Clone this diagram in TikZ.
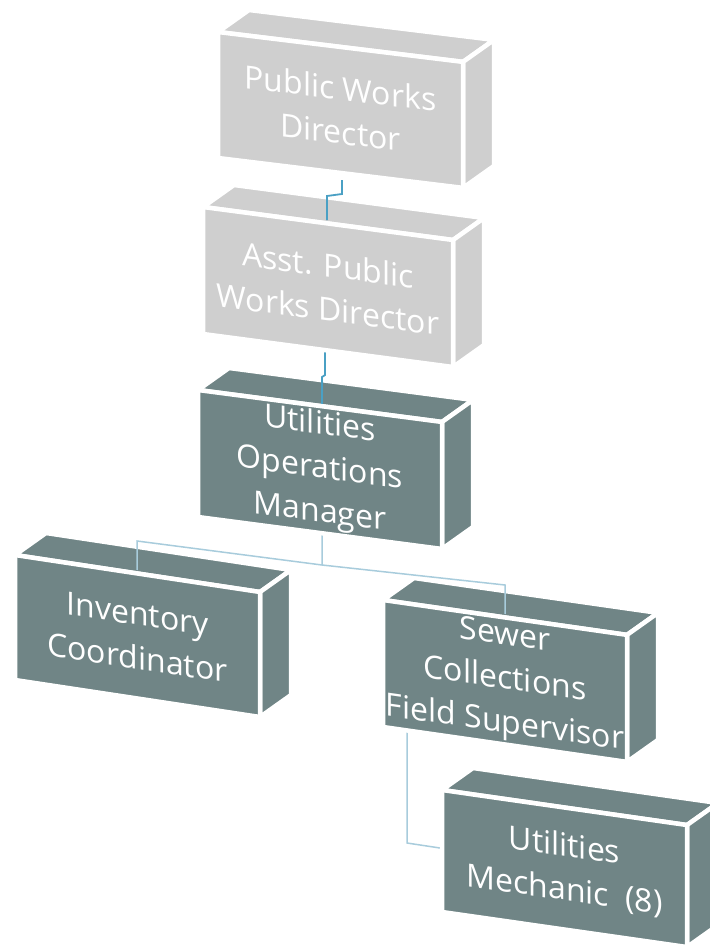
\documentclass[tikz,border=0pt]{standalone}
\usepackage{fontspec}
\setmainfont{Open Sans}
\definecolor{boxlight}{RGB}{207,207,207}
\definecolor{boxdark}{RGB}{112,133,134}
\definecolor{linkdark}{RGB}{74,160,196}
\definecolor{linklight}{RGB}{168,204,220}
\pgfdeclarelayer{bg}
\pgfdeclarelayer{faces}
\pgfdeclarelayer{links}
\pgfsetlayers{bg,faces,links,main}
\tikzset{
  face/.style={line width=4.5pt, draw=white, line join=round},
  lbl/.style={text=white, align=center, font=\fontsize{32}{44}\selectfont, transform shape, inner sep=0pt},
  linkA/.style={draw=linkdark, line width=1.8pt},
  linkB/.style={draw=linklight, line width=1.5pt},
}
% name, x, y, w, h, slope, fill, text
\newcommand\orgbox[8]{%
  \begin{scope}[shift={(#2,#3)}, yslant=-#6]
    \begin{pgfonlayer}{faces}
      \filldraw[face, fill=#7] (0,0) -- (31,{-(22+#6*31)}) -- ({#4+31},{-(22+#6*31)}) -- (#4,0) -- cycle;
      \filldraw[face, fill=#7] (#4,0) -- ({#4+31},{-(22+#6*31)}) -- ({#4+31},{#5-(22+#6*31)}) -- (#4,#5) -- cycle;
    \end{pgfonlayer}
    \filldraw[face, fill=#7] (0,0) rectangle (#4,#5);
    \node[lbl] (#1) at ({#4/2},{#5/2}) {#8};
  \end{scope}}
\begin{document}
\begin{tikzpicture}[x=1pt, y=-1pt]
  \useasboundingbox (0,0) rectangle (709,947);
  \begin{pgfonlayer}{bg}
    \fill[white] (0,0) rectangle (709,947);
  \end{pgfonlayer}
  \orgbox{pwd}{218}{32}{245}{126}{0.122}{boxlight}{Public Works\\Director}
  \orgbox{apwd}{203}{207}{250}{127}{0.132}{boxlight}{Asst. Public\\Works Director}
  \orgbox{uom}{198}{390}{244}{127}{0.131}{boxdark}{Utilities\\Operations\\Manager}
  \orgbox{inv}{15}{555}{245}{125}{0.151}{boxdark}{Inventory\\Coordinator}
  \orgbox{sew}{383}{600}{244}{127}{0.143}{boxdark}{Sewer\\Collections\\Field Supervisor}
  \orgbox{mech}{442}{790}{245}{122}{0.143}{boxdark}{Utilities\\Mechanic\hspace{0.25em} (8)}
  \begin{pgfonlayer}{links}
    \coordinate (a1) at (342,180);
    \coordinate (a2) at (342,194);
    \coordinate (a3) at (327,196);
    \coordinate (a4) at (327,220);
    \draw[linkA] (a1) -- (a2) -- (a3) -- (a4);
    \coordinate (b1) at (325,350);
    \coordinate (b2) at (325,375);
    \coordinate (b3) at (322,377);
    \coordinate (b4) at (322,405);
    \draw[linkA] (b1) -- (b2) -- (b3) -- (b4);
    \coordinate (j0) at (322,530);
    \coordinate (j1) at (322,565);
    \coordinate (l1) at (137,541);
    \coordinate (l2) at (137,570);
    \coordinate (r1) at (505,585);
    \coordinate (r2) at (505,614);
    \draw[linkB] (j0) -- (j1) -- (l1) -- (l2);
    \draw[linkB] (j1) -- (r1) -- (r2);
    \coordinate (m1) at (407,722);
    \coordinate (m2) at (407,843);
    \coordinate (m3) at (440,848);
    \draw[linkB] (m1) -- (m2) -- (m3);
  \end{pgfonlayer}
\end{tikzpicture}
\end{document}
